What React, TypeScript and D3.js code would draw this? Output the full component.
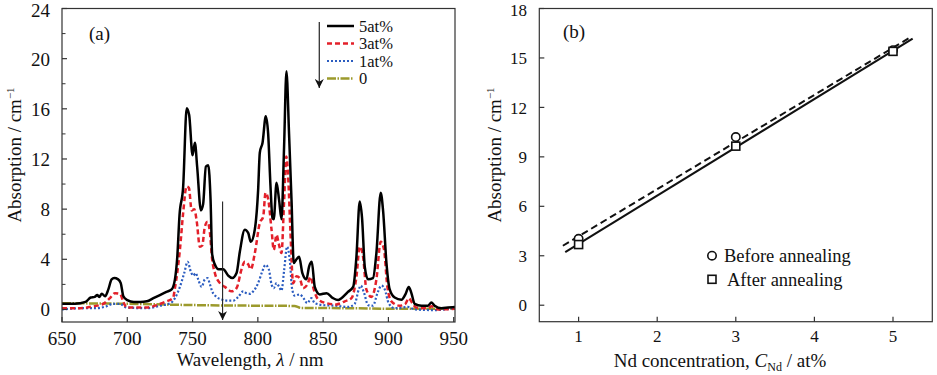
import React from 'react';
import * as d3 from 'd3';

// ---------- Panel (a): absorption spectra [wavelength nm, absorption cm^-1] ----------
const spectrum5at: [number, number][] = [
  [650,0.45],[660,0.45],[668,0.6],[672,0.95],[675,1.0],[677,1.15],[678.5,1.0],[680.5,1.25],[683,1.05],[685.5,1.6],
  [688,2.4],[690,2.5],[693,2.4],[695,2.1],[697,1.05],[700,0.75],[705,0.6],[710,0.6],[715,0.65],[720,0.9],
  [725,1.15],[730,1.4],[734,1.6],[736.5,2.4],[738.3,4.2],[740,7.5],[742.8,9.8],[745.5,16.05],[747.4,15.5],[750,12.3],
  [751.8,13.3],[753.5,11.4],[756.4,7.9],[758.1,8.4],[760.2,11.4],[762,11.5],[763.8,8.7],[765,4.4],[767,3.6],[770,3.2],
  [773.5,3.2],[777.3,2.7],[780.4,2.5],[783.7,2.9],[786.2,4.6],[790,6.35],[792.6,6.1],[794.6,5.4],[797.7,6.4],[800.2,9.5],
  [801.5,12.5],[803.6,13.3],[806.1,15.4],[807.9,14.0],[809.7,9.8],[811.2,7.3],[812.2,7.2],[814.3,10.1],[816.3,8.7],[818.1,7.2],
  [820.1,13.0],[821.9,19.0],[823.9,14.0],[825.8,8.7],[827.5,3.7],[829.6,4.0],[831.6,4.2],[834.1,2.9],[837.2,2.4],[839.2,3.4],
  [841.3,3.8],[843.6,1.8],[847.4,1.2],[852.6,1.3],[857.6,0.9],[861.5,0.75],[864,0.9],[869,1.4],[873,1.8],[875.5,4.2],
  [878,8.6],[879.8,7.3],[881.9,3.4],[884.4,2.4],[888.2,2.5],[890.8,4.5],[894.1,9.3],[895.9,7.9],[898.5,3.7],[901,1.6],
  [904.8,0.95],[910,0.77],[913,1.2],[915.6,1.8],[917.6,1.3],[920.1,0.45],[925.3,0.3],[930.3,0.3],[932.9,0.55],[935.4,0.3],
  [940.6,0.1],[945.7,0.15],[951,0.2],
];

const spectrum3at: [number, number][] = [
  [650,0.1],[664,0.1],[674,0.25],[681.6,0.45],[686.7,0.9],[690.6,1.3],[694.4,1.25],[697,0.6],[699.5,0.15],[715,0.15],
  [722.5,0.35],[730,0.65],[735,0.9],[736.5,1.7],[740.3,4.75],[742.8,7.7],[745.4,9.8],[747.2,9.7],[749.3,7.9],[751.3,8.0],
  [753.1,7.1],[755.6,5.0],[757.4,5.1],[759.4,6.6],[761.5,7.0],[763.3,6.1],[765,4.0],[767.1,2.9],[770.9,2.1],[774.7,1.8],
  [779.9,1.45],[783.7,1.7],[787.5,3.2],[790,3.8],[792.6,3.6],[794.6,3.2],[797.7,4.5],[801.5,6.9],[804.1,7.4],[805.9,9.3],
  [807.9,8.8],[810.5,6.35],[812.2,4.75],[814.3,5.95],[816.1,5.2],[818.1,4.5],[820.1,8.6],[821.8,12.2],[823.2,10.6],[825,6.1],
  [827,2.1],[829.6,2.65],[832,2.5],[834.7,1.7],[838,2.0],[840.3,2.6],[842.8,1.6],[846.2,0.8],[852.6,0.5],[860,0.4],
  [866.6,0.65],[871.7,0.9],[875.5,2.6],[878,5.0],[880.6,4.2],[883.1,1.6],[887,1.0],[890.8,2.4],[894.1,5.4],[896.6,4.8],
  [899.2,1.8],[902.3,0.65],[908.7,0.3],[913,0.45],[915.6,0.9],[918.3,0.5],[921.4,0.15],[930,0.1],[933,0.25],[938,0.0],
  [951,0.05],
];

const spectrum1at: [number, number][] = [
  [650,0.0],[664,0.1],[675,0.1],[684,0.25],[689,0.45],[694.4,0.45],[699.5,0.15],[715,0.1],[725,0.3],[733,0.5],
  [736.5,0.9],[740.3,1.8],[743.6,2.9],[746.2,3.8],[748.7,3.0],[750.5,2.7],[752.3,2.9],[754.3,2.4],[756.9,1.8],[759.4,2.4],
  [761.5,2.5],[763.3,2.0],[765,1.45],[768.4,1.0],[772.2,0.8],[777.3,0.7],[781.1,0.7],[785,1.0],[788.8,1.45],[791.3,1.3],
  [793.9,1.25],[796.5,1.45],[800.2,2.1],[803.3,3.0],[805.9,3.55],[808.4,3.2],[810.5,2.0],[812.2,1.7],[814.3,2.1],[816.1,1.85],
  [818.1,1.5],[820.1,3.1],[822.4,5.0],[824.5,3.9],[826.3,1.6],[828.3,1.1],[832,1.2],[835,0.9],[837.8,0.5],[841,0.9],
  [843.6,0.5],[850,0.35],[860,0.3],[869,0.2],[874.2,0.45],[877.3,1.6],[878.8,1.9],[881.4,1.3],[884.4,0.35],[888.2,0.3],
  [891.6,1.3],[894.7,1.9],[897.2,1.6],[900.2,0.5],[904.8,0.1],[915,0.2],[920,0.0],[935,-0.05],[951,0.1],
];

const spectrum0at: [number, number][] = [
  [650,0.5],[700,0.45],[750,0.35],[800,0.3],[828,0.28],[833,0.12],[870,0.1],[910,0.05],[951,0.05],
];

const seriesLabels = ['5at%', '3at%', '1at%', '0'];
const seriesColors = ['#000000', '#e3202a', '#2b5cc0', '#9c9a2c'];
const seriesDash = ['none', '5,3', '2,2', '9,1.5,1.5,1.5'];
const seriesWidth = [2.5, 2.5, 2.2, 2.5];

const xTicksA = [650, 700, 750, 800, 850, 900, 950];
const yTicksA = [0, 4, 8, 12, 16, 20, 24];
const yMinorA = [2, 6, 10, 14, 18, 22];

// ---------- Panel (b): absorption vs Nd concentration ----------
const concentrations = [1, 3, 5];
const beforeAnnealing = [4.03, 10.2, 15.47];
const afterAnnealing = [3.68, 9.65, 15.4];
const fitRangeBefore = [0.8, 5.22];
const fitRangeAfter = [0.83, 5.25];
const legendB = ['Before annealing', 'After annealing'];

const xTicksB = [1, 2, 3, 4, 5];
const yTicksB = [0, 3, 6, 9, 12, 15, 18];

const FONT = 'Liberation Serif, Times New Roman, Times, serif';

function linFit(xs: number[], ys: number[]) {
  const mx = d3.mean(xs)!, my = d3.mean(ys)!;
  let num = 0, den = 0;
  xs.forEach((x, i) => { num += (x - mx) * (ys[i] - my); den += (x - mx) ** 2; });
  const slope = num / den;
  return { slope, intercept: my - slope * mx };
}

export default function App() {
  const aL = 62, aR = 455, aT = 8.5, aB = 322;
  const xA = d3.scaleLinear().domain([650, 951]).range([aL, aR]);
  const yA = d3.scaleLinear().domain([-1, 24]).range([aB, aT]);
  const lineA = d3.line<[number, number]>().x(d => xA(d[0])).y(d => yA(d[1])).curve(d3.curveMonotoneX);
  const spectra = [spectrum5at, spectrum3at, spectrum1at, spectrum0at];

  const bL = 539.3, bR = 932.3, bT = 8.5, bB = 321.7;
  const xB = d3.scaleLinear().domain([0.5, 5.5]).range([bL, bR]);
  const yB = d3.scaleLinear().domain([-1, 18]).range([bB, bT]);
  const fitBefore = linFit(concentrations, beforeAnnealing);
  const fitAfter = linFit(concentrations, afterAnnealing);
  const fitLine = (f: { slope: number; intercept: number }, r: number[]) =>
    d3.line<number>().x(x => xB(x)).y(x => yB(f.slope * x + f.intercept))(r) as string;

  const axisColor = '#333';
  const arrowX = xA(773);
  const txt: React.CSSProperties = { fontFamily: FONT };

  return (
    <svg width={937} height={375} style={{ position: 'absolute', left: 0, top: 0, display: 'block', background: '#fff', fontFamily: FONT }}>
      <defs>
        <clipPath id="clipA"><rect x={aL} y={aT} width={aR - aL} height={aB - aT} /></clipPath>
        <marker id="arrowHead" viewBox="0 0 10 10" refX="10" refY="5" markerWidth="9" markerHeight="9"
          markerUnits="userSpaceOnUse" orient="auto">
          <path d="M0,0 L10,5 L0,10 L3,5 Z" fill="#111" />
        </marker>
      </defs>

      {/* ===== Panel (a) ===== */}
      <g clipPath="url(#clipA)">
        {spectra.slice().reverse().map((s, ri) => {
          const i = spectra.length - 1 - ri;
          return (
            <path key={i} d={lineA(s) as string} fill="none" stroke={seriesColors[i]}
              strokeWidth={seriesWidth[i]} strokeDasharray={seriesDash[i]} strokeLinejoin="round" />
          );
        })}
      </g>
      <line x1={arrowX} x2={arrowX} y1={yA(8.6)} y2={yA(-0.85)} stroke="#222" strokeWidth={1.1} markerEnd="url(#arrowHead)" />

      <rect x={aL} y={aT} width={aR - aL} height={aB - aT} fill="none" stroke={axisColor} strokeWidth={1.2} />
      {xTicksA.map(t => (
        <g key={t}>
          <line x1={xA(t)} x2={xA(t)} y1={aB} y2={aB - 5} stroke={axisColor} strokeWidth={1.2} />
          <text style={txt} x={xA(t)} y={345} fontSize={19} textAnchor="middle" fill="#111">{t}</text>
        </g>
      ))}
      {yTicksA.map(t => (
        <g key={t}>
          <line x1={aL} x2={aL + 5} y1={yA(t)} y2={yA(t)} stroke={axisColor} strokeWidth={1.2} />
          <text style={txt} x={50} y={Math.max(yA(t), 10)} dy="0.36em" fontSize={19} textAnchor="end" fill="#111">{t}</text>
        </g>
      ))}
      {yMinorA.map(t => (
        <line key={t} x1={aL} x2={aL + 3.5} y1={yA(t)} y2={yA(t)} stroke={axisColor} strokeWidth={1} />
      ))}
      <text style={txt} x={250} y={366} fontSize={19} textAnchor="middle" fill="#111">
        Wavelength, <tspan fontStyle="italic">λ</tspan> / nm
      </text>
      <text style={txt} transform="translate(21,155) rotate(-90)" fontSize={19} textAnchor="middle" fill="#111">
        Absorption / cm<tspan dy={-7} fontSize={11}>−1</tspan>
      </text>
      <text style={txt} x={89} y={40} fontSize={19} fill="#111">(a)</text>

      {/* legend (a) */}
      <line x1={319.3} x2={319.3} y1={22} y2={88} stroke="#333" strokeWidth={1.3} markerEnd="url(#arrowHead)" />
      {seriesLabels.map((lab, i) => {
        const y = 26 + i * 17.5;
        return (
          <g key={lab}>
            <line x1={327} x2={354} y1={y} y2={y} stroke={seriesColors[i]} strokeWidth={seriesWidth[i]}
              strokeDasharray={seriesDash[i]} />
            <text style={txt} x={359} y={y} dy="0.34em" fontSize={16.5} fill="#111">{lab}</text>
          </g>
        );
      })}

      {/* ===== Panel (b) ===== */}
      <path d={fitLine(fitBefore, fitRangeBefore)} fill="none" stroke="#111" strokeWidth={2} strokeDasharray="7,4" />
      <path d={fitLine(fitAfter, fitRangeAfter)} fill="none" stroke="#111" strokeWidth={2} />
      {concentrations.map((c, i) => (
        <circle key={'c' + c} cx={xB(c)} cy={yB(beforeAnnealing[i])} r={4.2} fill="#fff" stroke="#111" strokeWidth={1.6} />
      ))}
      {concentrations.map((c, i) => (
        <rect key={'s' + c} x={xB(c) - 4} y={yB(afterAnnealing[i]) - 4} width={8} height={8} fill="#fff" stroke="#111" strokeWidth={1.6} />
      ))}

      <rect x={bL} y={bT} width={bR - bL} height={bB - bT} fill="none" stroke={axisColor} strokeWidth={1.2} />
      {xTicksB.map(t => (
        <g key={t}>
          <line x1={xB(t)} x2={xB(t)} y1={bB} y2={bB - 5} stroke={axisColor} strokeWidth={1.2} />
          <text style={txt} x={xB(t)} y={341.5} fontSize={17} textAnchor="middle" fill="#111">{t}</text>
        </g>
      ))}
      {yTicksB.map(t => (
        <g key={t}>
          <line x1={bL} x2={bL + 5} y1={yB(t)} y2={yB(t)} stroke={axisColor} strokeWidth={1.2} />
          <text style={txt} x={527} y={Math.max(yB(t), 10)} dy="0.36em" fontSize={17} textAnchor="end" fill="#111">{t}</text>
        </g>
      ))}
      <text style={txt} x={720} y={367} fontSize={19} textAnchor="middle" fill="#111">
        Nd concentration, <tspan fontStyle="italic">C</tspan><tspan fontSize={12} dy={4}>Nd</tspan><tspan dy={-4}> / at%</tspan>
      </text>
      <text style={txt} transform="translate(501,155) rotate(-90)" fontSize={19} textAnchor="middle" fill="#111">
        Absorption / cm<tspan dy={-7} fontSize={11}>−1</tspan>
      </text>
      <text style={txt} x={563} y={38} fontSize={19} fill="#111">(b)</text>

      {/* legend (b) */}
      <circle cx={712} cy={255.7} r={4.2} fill="#fff" stroke="#111" strokeWidth={1.6} />
      <text style={txt} x={724} y={255.7} dy="0.35em" fontSize={18.5} fill="#111">{legendB[0]}</text>
      <rect x={708} y={275.3} width={8} height={8} fill="#fff" stroke="#111" strokeWidth={1.6} />
      <text style={txt} x={727} y={279.3} dy="0.35em" fontSize={18.5} fill="#111">{legendB[1]}</text>
    </svg>
  );
}
